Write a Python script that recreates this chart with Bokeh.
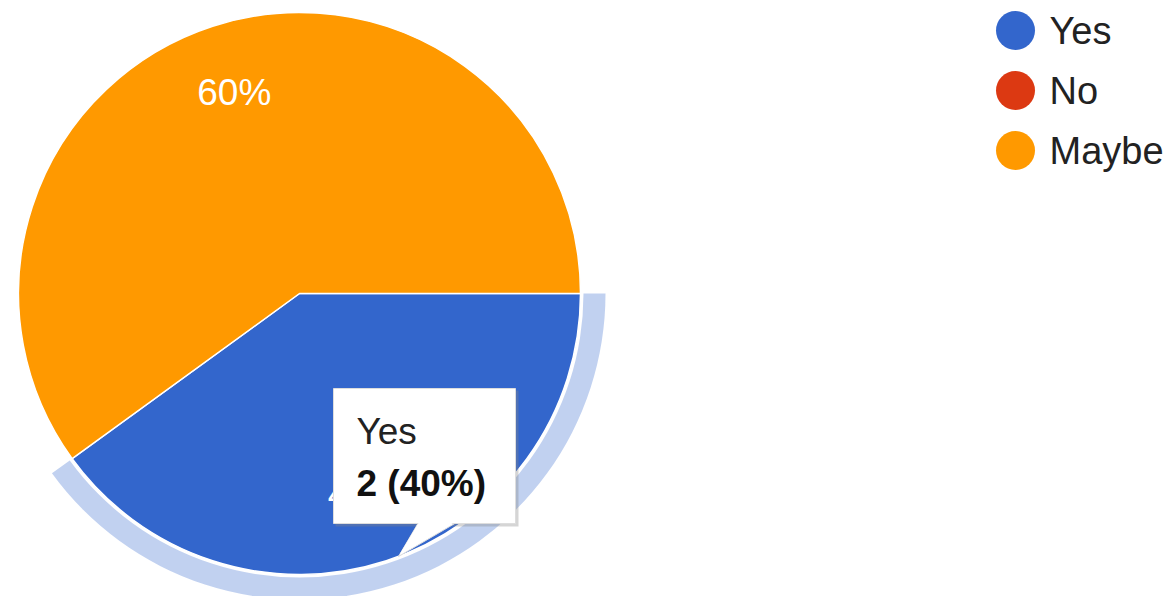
import math
from bokeh.plotting import figure
from bokeh.models import Range1d
from bokeh.core.properties import value
from bokeh.embed import file_html
from bokeh.resources import INLINE

# ---- data ----
categories = ["Yes", "No", "Maybe"]
counts = [2, 0, 3]
colors = ["#3366CC", "#DC3912", "#FF9900"]
highlight = "Yes"

W, H = 1172, 596
FONT = value("Liberation Sans")

p = figure(width=W, height=H, output_backend="svg", toolbar_location=None,
           x_range=Range1d(0, W), y_range=Range1d(0, H), min_border=0)
p.axis.visible = False
p.grid.visible = False
p.outline_line_color = None
p.background_fill_color = "white"
p.border_fill_color = "white"

def Y(py):
    return H - py

cx, cy, r = 299, Y(293), 281
total = sum(counts)
fracs = [c / total for c in counts]
cum = [0.0]
for f in fracs:
    cum.append(cum[-1] + f)

# slices (clockwise from 3 o'clock)
starts, ends, cols, mids, labels = [], [], [], [], []
for i, f in enumerate(fracs):
    if f <= 0:
        continue
    starts.append(-cum[i + 1] * 2 * math.pi)
    ends.append(-cum[i] * 2 * math.pi)
    cols.append(colors[i])
    mids.append(-(cum[i] + f / 2) * 2 * math.pi)
    labels.append(f"{round(f * 100)}%")

# highlight ring for hovered slice
hi = categories.index(highlight)
p.annular_wedge(x=cx, y=cy, inner_radius=r + 3, outer_radius=r + 25,
                start_angle=-cum[hi + 1] * 2 * math.pi, end_angle=-cum[hi] * 2 * math.pi,
                fill_color=colors[hi], fill_alpha=0.3, line_color=None)

p.wedge(x=[cx] * len(starts), y=[cy] * len(starts), radius=r,
        start_angle=starts, end_angle=ends, fill_color=cols,
        line_color="white", line_width=1.5)

# slice labels
lr = 211
p.text(x=[cx + lr * math.cos(a) for a in mids], y=[cy + lr * math.sin(a) for a in mids],
       text=labels, text_color="white", text_font=FONT, text_font_size="37px",
       text_align="center", text_baseline="middle")

# legend
lx, ly0, step = 1015, 30, 60
p.scatter(x=[lx] * len(categories), y=[Y(ly0 + step * i) for i in range(len(categories))],
          size=39, marker="circle", fill_color=colors, line_color=None)
p.text(x=[lx + 34] * len(categories), y=[Y(ly0 + step * i) for i in range(len(categories))],
       text=categories, text_color="#222222", text_font=FONT, text_font_size="38px",
       text_align="left", text_baseline="middle")

# tooltip
bx0, bx1, by0, by1 = 333, 515, 388, 523
p.quad(left=bx0 + 2, right=bx1 + 3, top=Y(by0 + 2), bottom=Y(by1 + 3),
       fill_color="#888888", fill_alpha=0.35, line_color=None)
p.patch(x=[418, 456, 398], y=[Y(by1 - 1), Y(by1 - 1), Y(556)],
        fill_color="white", line_color="#dddddd", line_width=1)
p.quad(left=bx0, right=bx1, top=Y(by0), bottom=Y(by1),
       fill_color="white", line_color="#dddddd", line_width=1)
p.patch(x=[419, 455, 399], y=[Y(by1 - 2), Y(by1 - 2), Y(554)],
        fill_color="white", line_color=None)
p.text(x=[356], y=[Y(431)], text=[highlight], text_color="#222222", text_font=FONT,
       text_font_size="37px", text_align="left", text_baseline="middle")
p.text(x=[356], y=[Y(483)], text=[f"{counts[hi]} ({round(fracs[hi] * 100)}%)"],
       text_color="#111111", text_font=FONT, text_font_size="37px",
       text_font_style="bold", text_align="left", text_baseline="middle")

open("out.html", "w").write(file_html(p, INLINE))
